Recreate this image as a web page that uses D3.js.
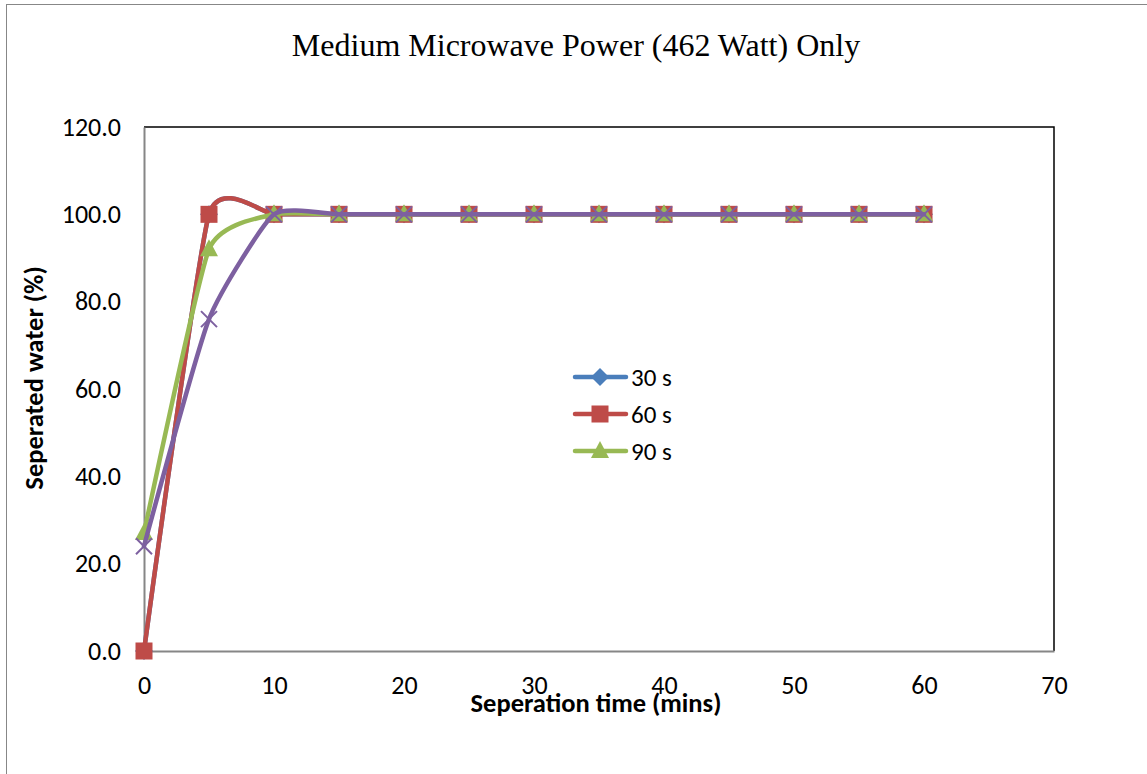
<!DOCTYPE html>
<html>
<head>
<meta charset="utf-8">
<script src="https://cdn.jsdelivr.net/npm/d3@7"></script>
<style>
  body { margin: 0; background: #fff; }
  text { font-family: Carlito, "Open Sans", "Noto Sans", sans-serif; }
</style>
</head>
<body>
<div id="app"></div>
<script>
const times = [0, 5, 10, 15, 20, 25, 30, 35, 40, 45, 50, 55, 60];
const s30 = [0, 100, 100, 100, 100, 100, 100, 100, 100, 100, 100, 100, 100];
const s60 = [0, 100, 100, 100, 100, 100, 100, 100, 100, 100, 100, 100, 100];
const s90 = [27, 92, 100, 100, 100, 100, 100, 100, 100, 100, 100, 100, 100];
const s120 = [24, 76, 100, 100, 100, 100, 100, 100, 100, 100, 100, 100, 100];
const xTicks = [0, 10, 20, 30, 40, 50, 60, 70];
const yTicks = [0, 20, 40, 60, 80, 100, 120];
const legendNames = ["30 s", "60 s", "90 s"];

let width = 1147,
    height = 774;

const svg = d3.select("#app").append("svg")
    .attr("width", width)
    .attr("height", height);

// outer chart border
svg.append("rect")
    .attr("x", 6.5).attr("y", 4.5)
    .attr("width", 1150).attr("height", 780)
    .attr("fill", "#fff")
    .attr("stroke", "#878787").attr("stroke-width", 1);

const x = d3.scaleLinear().domain([0, 70]).range([144, 1054]);
const y = d3.scaleLinear().domain([0, 120]).range([651, 127]);

// plot frame (top/right black)
svg.append("path")
    .attr("d", `M${x(0)},${y(120)}H${x(70)}V${y(0)}`)
    .attr("fill", "none").attr("stroke", "#000").attr("stroke-width", 1.5);

const xAxis = svg.append("g")
    .attr("transform", `translate(0,${y(0)})`)
    .call(d3.axisBottom(x).tickValues(xTicks).tickSize(0).tickPadding(25));
xAxis.select(".domain").attr("stroke", "#868686").attr("stroke-width", 2);
xAxis.selectAll("text").attr("font-size", 26).attr("fill", "#000");

const yAxis = svg.append("g")
    .attr("transform", `translate(${x(0)},0)`)
    .call(d3.axisLeft(y).tickValues(yTicks).tickFormat(d3.format(".1f")).tickSize(0).tickPadding(23));
yAxis.select(".domain").attr("stroke", "#868686").attr("stroke-width", 2);
yAxis.selectAll("text").attr("font-size", 26).attr("fill", "#000");

svg.append("text")
    .attr("x", 576).attr("y", 56)
    .attr("text-anchor", "middle")
    .style("font-family", "'Liberation Serif', 'Times New Roman', serif")
    .attr("font-size", 32)
    .text("Medium Microwave Power (462 Watt) Only");

svg.append("text")
    .attr("x", 596).attr("y", 712)
    .attr("text-anchor", "middle")
    .attr("font-size", 26.5).attr("font-weight", "bold")
    .text("Seperation time (mins)");

svg.append("text")
    .attr("transform", `translate(43,378) rotate(-90)`)
    .attr("text-anchor", "middle")
    .attr("font-size", 26.5).attr("font-weight", "bold")
    .text("Seperated water (%)");

const series = [
  { vals: s30, color: "#4A7EBB", marker: "diamond" },
  { vals: s60, color: "#BE4B48", marker: "square" },
  { vals: s90, color: "#98B954", marker: "triangle" },
  { vals: s120, color: "#7D60A0", marker: "x" }
];

const line = d3.line()
    .x((d, i) => x(times[i]))
    .y(d => y(d))
    .curve(d3.curveCardinal.tension(0.5));

const drawMarker = (g, type, color, cx, cy) => {
  if (type === "square") {
    g.append("rect").attr("x", cx - 8.5).attr("y", cy - 8.5)
      .attr("width", 17).attr("height", 17).attr("fill", color);
  } else if (type === "diamond") {
    g.append("path").attr("d", `M${cx},${cy - 9}L${cx + 9},${cy}L${cx},${cy + 9}L${cx - 9},${cy}Z`)
      .attr("fill", color);
  } else if (type === "triangle") {
    g.append("path").attr("d", `M${cx},${cy - 10}L${cx + 9},${cy + 7}L${cx - 9},${cy + 7}Z`)
      .attr("fill", color);
  } else {
    g.append("path").attr("d", `M${cx - 8},${cy - 8}L${cx + 8},${cy + 8}M${cx - 8},${cy + 8}L${cx + 8},${cy - 8}`)
      .attr("stroke", color).attr("stroke-width", 2);
  }
};

series.forEach(s => {
  const g = svg.append("g");
  g.append("path")
    .attr("d", line(s.vals))
    .attr("fill", "none")
    .attr("stroke", s.color)
    .attr("stroke-width", 4.5)
    .attr("stroke-linejoin", "round")
    .attr("stroke-linecap", "round");
  s.vals.forEach((v, i) => drawMarker(g, s.marker, s.color, x(times[i]), y(v)));
});

// legend
const legend = svg.append("g");
legendNames.forEach((name, i) => {
  const ly = 377 + i * 37;
  const s = series[i];
  legend.append("line")
    .attr("x1", 575).attr("x2", 626).attr("y1", ly).attr("y2", ly)
    .attr("stroke", s.color).attr("stroke-width", 4.5).attr("stroke-linecap", "round");
  drawMarker(legend, s.marker, s.color, 600, ly);
  legend.append("text")
    .attr("x", 631).attr("y", ly + 9)
    .attr("font-size", 25)
    .text(name);
});
</script>
</body>
</html>
